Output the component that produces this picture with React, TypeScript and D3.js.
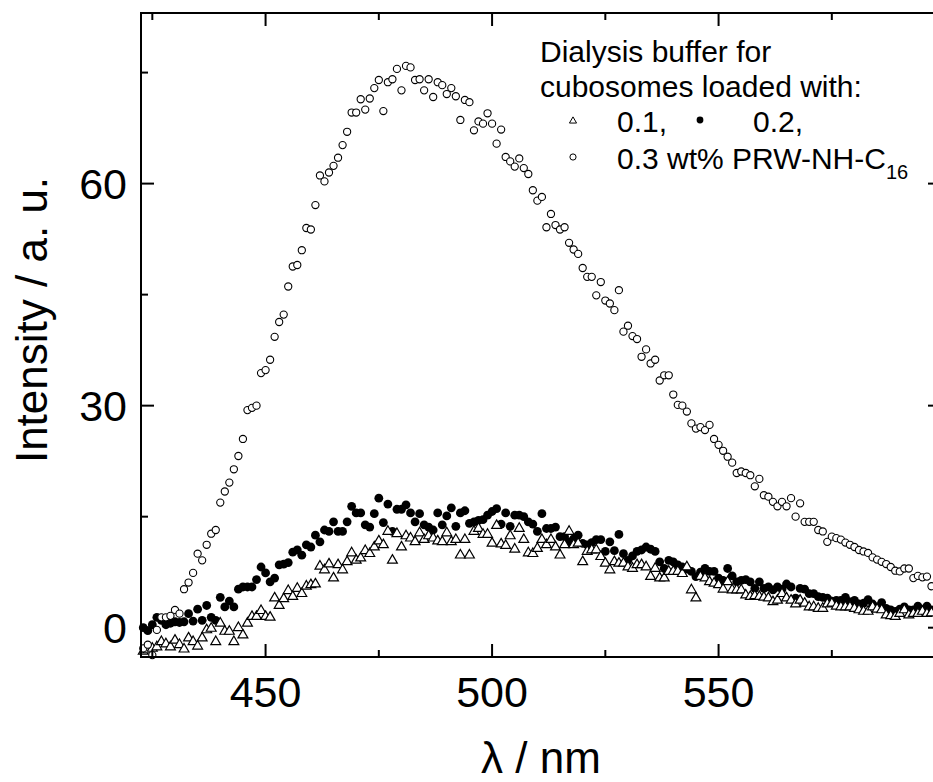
import React from "react";
import * as d3 from "d3";

// wavelength grid (nm) shared by the three series
const wavelengthStart = 423;
const wavelengthEnd = 597;

// 0.1 wt% (open triangles)
const series01 = [
  -3.2, -3.0, -2.8, -2.6, -1.9, -2.2, -2.6,
  -1.7, -2.3, -2.9, -1.4, -1.9, -2.5, -1.4, -0.3, -0.1, -1.9,
  0.6, -0.5, -0.5, -1.9, 0.0, -1.0, 0.6, 1.5, 1.5, 2.3,
  1.5, 1.4, 4.0, 3.0, 3.9, 5.0, 4.2, 5.3, 4.6, 5.6,
  5.8, 5.9, 8.3, 7.8, 8.6, 6.7, 8.5, 7.8, 8.9, 10.1,
  9.1, 9.4, 10.4, 10.0, 10.9, 11.7, 11.2, 13.0, 9.1, 12.7,
  10.9, 12.4, 12.1, 11.6, 12.8, 11.9, 12.4, 12.1, 11.7, 11.6,
  12.8, 11.6, 11.9, 9.8, 11.9, 9.8, 13.0, 13.4, 12.6, 12.6,
  11.4, 13.8, 11.3, 11.1, 12.4, 10.6, 13.4, 11.9, 10.1, 10.0,
  10.7, 11.9, 11.2, 11.9, 10.9, 9.8, 11.2, 13.0, 11.2, 11.4,
  8.9, 10.3, 10.5, 10.5, 9.6, 8.7, 7.8, 8.9, 8.7, 8.7,
  8.2, 8.0, 8.5, 8.5, 8.2, 6.9, 8.0, 6.7, 6.7, 7.6,
  7.6, 7.6, 7.3, 8.2, 5.1, 4.0, 6.9, 6.7, 6.2, 6.0,
  5.8, 5.2, 6.2, 5.1, 5.1, 5.1, 4.4, 4.2, 4.3, 4.2,
  4.1, 4.0, 3.5, 3.7, 4.6, 4.0, 3.7, 3.2, 3.7, 3.3,
  2.8, 2.8, 2.6, 2.6, 3.2, 3.3, 2.9, 2.8, 2.8, 2.8,
  2.6, 2.4, 2.2, 2.2, 2.8, 2.5, 2.4, 1.7, 1.6, 1.5,
  1.9, 2.4, 1.7, 1.9, 1.9, 2.2, 1.9, 2.0,
];

// 0.2 wt% (filled circles)
const series02 = [
  0.0, -0.4, 0.4, 1.4, 1.0, 0.4, 0.6,
  0.8, 0.7, 0.8, 1.9, 0.9, 2.5, 1.0, 3.0, 1.4, 1.0,
  4.1, 2.8, 3.6, 2.8, 5.2, 5.5, 5.5, 5.5, 6.5, 8.2,
  7.4, 6.2, 6.7, 8.5, 8.6, 8.8, 10.2, 10.5, 9.8, 11.2,
  10.9, 12.5, 11.6, 13.2, 13.0, 14.3, 13.0, 13.0, 14.3, 16.4,
  15.5, 15.5, 13.9, 13.6, 15.4, 17.5, 14.2, 16.7, 13.0, 16.0,
  16.0, 16.6, 15.5, 14.3, 15.4, 13.9, 13.6, 13.2, 15.5, 13.9,
  15.1, 16.2, 13.7, 15.5, 15.8, 14.1, 14.3, 14.5, 14.6, 15.2,
  15.7, 16.1, 14.0, 15.5, 13.7, 15.2, 15.2, 15.0, 14.3, 14.0,
  13.0, 15.4, 13.4, 13.4, 13.6, 12.3, 12.3, 11.6, 12.0, 12.5,
  11.4, 11.2, 11.5, 11.9, 11.9, 10.3, 11.6, 10.4, 12.6, 10.0,
  9.1, 9.7, 10.3, 10.5, 10.9, 10.6, 10.3, 8.9, 8.0, 9.1,
  8.9, 8.5, 8.2, 7.9, 7.6, 6.9, 7.5, 8.0, 7.6, 7.6,
  6.7, 6.4, 8.0, 7.0, 6.2, 6.4, 6.5, 6.2, 5.3, 6.2,
  5.3, 5.5, 5.1, 5.5, 5.2, 5.9, 5.5, 4.0, 5.3, 5.2,
  4.6, 4.6, 4.2, 4.1, 4.0, 3.6, 3.7, 3.7, 4.1, 3.5,
  3.7, 3.2, 3.3, 3.8, 3.2, 2.8, 3.4, 2.6, 2.4, 2.2,
  2.5, 2.8, 2.4, 2.4, 2.9, 2.4, 2.9, 2.4,
];

// 0.3 wt% (open circles)
const series03 = [
  -2.8, -2.3, -3.7, -0.3, 1.4, 1.4, 1.6,
  2.4, 1.9, 5.2, 6.1, 7.4, 10.0, 9.1, 11.2, 12.7, 13.2,
  16.9, 18.4, 19.6, 21.4, 23.2, 25.5, 29.4, 29.7, 30.0, 34.4,
  34.8, 36.2, 39.3, 41.3, 42.3, 46.1, 48.8, 49.0, 51.0, 54.0,
  53.8, 57.1, 61.1, 60.3, 61.5, 62.4, 63.5, 65.2, 67.0, 69.6,
  69.6, 71.4, 70.0, 71.5, 72.9, 74.0, 69.8, 73.7, 74.1, 75.5,
  72.6, 75.9, 75.7, 74.0, 74.1, 72.6, 74.1, 71.7, 73.7, 73.3,
  72.1, 72.9, 71.8, 68.6, 71.3, 71.0, 67.2, 68.4, 68.1, 69.5,
  68.1, 65.4, 67.3, 63.6, 63.0, 62.3, 63.4, 62.1, 61.3, 59.1,
  57.7, 58.2, 54.1, 55.9, 54.4, 53.8, 54.1, 52.0, 51.1, 50.5,
  48.6, 47.4, 47.4, 44.9, 46.7, 44.2, 43.8, 42.9, 45.6, 40.0,
  40.8, 39.4, 39.0, 36.6, 37.6, 35.7, 36.2, 33.4, 34.1, 34.1,
  31.5, 30.1, 30.0, 29.2, 27.6, 26.9, 27.1, 26.7, 27.4, 25.5,
  24.7, 23.9, 23.1, 22.3, 20.9, 21.1, 20.9, 20.6, 19.1, 20.1,
  17.9, 17.7, 17.0, 16.4, 17.0, 16.4, 17.5, 15.0, 16.8, 14.3,
  14.3, 14.3, 13.2, 13.0, 11.6, 12.3, 12.1, 11.9, 11.5, 11.2,
  10.9, 10.5, 10.3, 10.1, 9.5, 9.2, 8.9, 8.6, 8.2, 7.7,
  7.6, 8.0, 8.0, 6.7, 7.0, 6.8, 6.9, 5.6,
];

const xMajorTicks = [450, 500, 550];
const xMinorTicks = [425, 475, 525, 575];
const yMajorTicks = [0, 30, 60];
const yMinorTicks = [15, 45, 75];

const legendTitle = ["Dialysis buffer for", "cubosomes loaded with:"];
const legendLabels = ["0.1,", "0.2,", "0.3 wt% PRW-NH-C"];
const legendSub = "16";

const W = 933;
const H = 782;
const FONT = "'Liberation Sans', Arial, Helvetica, sans-serif";

export default function App() {
  const left = 141;
  const right = 941;
  const top = 13;
  const bottom = 657;

  const x = d3.scaleLinear().domain([422.5, 599.1]).range([left, right]);
  const y = d3.scaleLinear().domain([-3.96, 83.05]).range([bottom, top]);

  const wl = d3.range(wavelengthStart, wavelengthEnd + 1);
  const tri = d3.symbol().type(d3.symbolTriangle).size(42)();
  const triLegend = d3.symbol().type(d3.symbolTriangle).size(22)();

  const major = 13;
  const minor = 7;
  const sw = 2;

  return (
    <svg
      width={W}
      height={H}
      style={{ position: "absolute", left: 0, top: 0, background: "#fff" }}
      fontFamily={FONT}
    >
      <rect x={0} y={0} width={W} height={H} fill="#fff" />

      {/* data: filled circles */}
      <g>
        {series02.map((v, i) => (
          <circle key={"b" + i} cx={x(wl[i])} cy={y(v)} r={4.4} fill="#000" />
        ))}
      </g>
      {/* triangles */}
      <g>
        {series01.map((v, i) => (
          <path
            key={"t" + i}
            d={tri as string}
            transform={`translate(${x(wl[i])},${y(v)})`}
            fill="#fff"
            stroke="#000"
            strokeWidth={1.2}
          />
        ))}
      </g>
      {/* open circles */}
      <g>
        {series03.map((v, i) => (
          <circle
            key={"o" + i}
            cx={x(wl[i])}
            cy={y(v)}
            r={3.6}
            fill="#fff"
            stroke="#000"
            strokeWidth={1.1}
          />
        ))}
      </g>

      {/* frame */}
      <g stroke="#000" strokeWidth={sw} fill="none">
        <line x1={left} x2={left} y1={top - 1} y2={bottom + 1} />
        <line x1={right} x2={right} y1={top - 1} y2={bottom + 1} />
        <line x1={left - 1} x2={right + 1} y1={top} y2={top} />
        <line x1={left - 1} x2={right + 1} y1={bottom} y2={bottom} />
        {xMajorTicks.map((t) => (
          <g key={"xm" + t}>
            <line x1={x(t)} x2={x(t)} y1={bottom} y2={bottom - major} />
            <line x1={x(t)} x2={x(t)} y1={top} y2={top + major} />
          </g>
        ))}
        {xMinorTicks.map((t) => (
          <g key={"xn" + t}>
            <line x1={x(t)} x2={x(t)} y1={bottom} y2={bottom - minor} />
            <line x1={x(t)} x2={x(t)} y1={top} y2={top + minor} />
          </g>
        ))}
        {yMajorTicks.map((t) => (
          <g key={"ym" + t}>
            <line x1={left} x2={left + major} y1={y(t)} y2={y(t)} />
            <line x1={right} x2={right - major} y1={y(t)} y2={y(t)} />
          </g>
        ))}
        {yMinorTicks.map((t) => (
          <g key={"yn" + t}>
            <line x1={left} x2={left + minor} y1={y(t)} y2={y(t)} />
            <line x1={right} x2={right - minor} y1={y(t)} y2={y(t)} />
          </g>
        ))}
      </g>

      {/* tick labels */}
      <g fontSize={43} fill="#000">
        {xMajorTicks.map((t) => (
          <text key={"xl" + t} x={x(t)} y={707} textAnchor="middle">
            {t}
          </text>
        ))}
        {yMajorTicks.map((t) => (
          <text key={"yl" + t} x={127} y={y(t) + 15} textAnchor="end">
            {t}
          </text>
        ))}
      </g>

      {/* axis titles */}
      <text x={541} y={773} fontSize={44} textAnchor="middle" fill="#000">
        λ / nm
      </text>
      <text
        transform={`translate(47,320) rotate(-90)`}
        fontSize={44}
        textAnchor="middle"
        fill="#000"
      >
        Intensity / a. u.
      </text>

      {/* legend */}
      <g fontSize={30} fill="#000">
        <text x={540} y={62}>{legendTitle[0]}</text>
        <text x={540} y={97}>{legendTitle[1]}</text>
        <path d={triLegend as string} transform="translate(573,121)" fill="#fff" stroke="#000" strokeWidth={1} />
        <text x={617} y={132}>{legendLabels[0]}</text>
        <circle cx={700} cy={120} r={3.4} fill="#000" />
        <text x={753} y={132}>{legendLabels[1]}</text>
        <circle cx={573} cy={157} r={3.1} fill="#fff" stroke="#000" strokeWidth={1} />
        <text x={617} y={169}>
          {legendLabels[2]}
          <tspan fontSize={20} dy={10}>{legendSub}</tspan>
        </text>
      </g>
    </svg>
  );
}
